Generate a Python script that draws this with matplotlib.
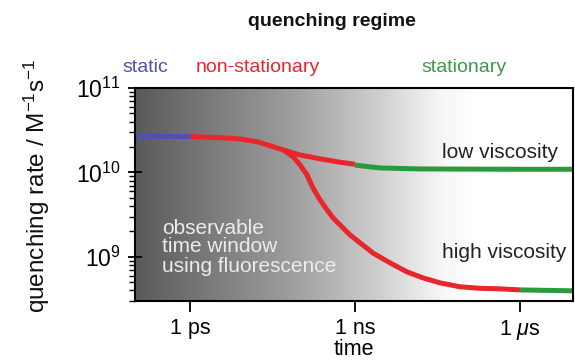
import numpy as np
import matplotlib
matplotlib.use("Agg")
import matplotlib.pyplot as plt
from matplotlib.colors import LinearSegmentedColormap
from matplotlib.ticker import LogLocator, NullFormatter

plt.rcParams['font.family'] = ['Liberation Sans', 'DejaVu Sans']
plt.rcParams['mathtext.fontset'] = 'custom'
plt.rcParams['mathtext.rm'] = 'Liberation Sans'
plt.rcParams['mathtext.it'] = 'Liberation Sans:italic'
plt.rcParams['mathtext.bf'] = 'Liberation Sans:bold'

# ---- data (time in s, rate in M^-1 s^-1) ----
static_t = [1e-13, 1e-12]
static_k = [2.67e10, 2.67e10]

common_t = [1.0e-12, 3.51e-12, 8.11e-12, 1.65e-11, 2.85e-11, 4.91e-11]
common_k = [2.67e10, 2.58e10, 2.49e10, 2.31e10, 2.07e10, 1.85e10]

low_ns_t = [1.0e-10, 2.31e-10, 5.33e-10, 1.0e-9]
low_ns_k = [1.61e10, 1.45e10, 1.32e10, 1.25e10]
low_st_t = [1.0e-9, 2.85e-9, 1.52e-8, 1.0e-6, 9.2e-6]
low_st_k = [1.22e10, 1.13e10, 1.10e10, 1.09e10, 1.09e10]

high_ns_t = [7.46e-11, 1.0e-10, 1.34e-10, 1.72e-10, 2.31e-10, 3.10e-10, 3.98e-10,
             6.05e-10, 8.11e-10, 1.23e-9, 2.12e-9, 4.33e-9, 8.81e-9, 1.72e-8,
             3.51e-8, 8.11e-8, 1.88e-7, 4.33e-7, 1.0e-6]
high_ns_k = [1.54e10, 1.23e10, 9.33e9, 6.56e9, 4.73e9, 3.60e9, 2.90e9,
             2.20e9, 1.82e9, 1.47e9, 1.11e9, 8.49e8, 6.64e8, 5.64e8,
             4.92e8, 4.42e8, 4.24e8, 4.18e8, 4.06e8]
high_st_t = [1.0e-6, 9.2e-6]
high_st_k = [4.06e8, 3.96e8]

xtick_vals = [1e-12, 1e-9, 1e-6]
xtick_labels = ['1 ps', '1 ns', r'1 $\mu$s']
ytick_vals = [1e9, 1e10, 1e11]
ytick_labels = [r'$\mathregular{10^{9}}$', r'$\mathregular{10^{10}}$', r'$\mathregular{10^{11}}$']

C_BLUE = '#4f52a8'
C_RED = '#e8262b'
C_GREEN = '#2b9a3c'

fig = plt.figure(figsize=(5.75, 3.64), dpi=100)
W, H = 575, 364
ax = fig.add_axes([135 / W, (H - 301) / H, (573 - 135) / W, (301 - 88) / H])
ax.set_xscale('log')
ax.set_yscale('log')
ax.set_xlim(1e-13, 9.2e-6)
ax.set_ylim(3.0e8, 1e11)

# gradient background
cmap = LinearSegmentedColormap.from_list('g', [(0, '#5a5a5a'), (0.35, '#9c9c9c'),
                                              (0.55, '#cdcdcd'), (0.70, '#f6f6f6'),
                                              (0.78, '#ffffff'), (1.0, '#ffffff')])
grad = np.linspace(0, 1, 512).reshape(1, -1)
ax.imshow(grad, extent=[0, 1, 0, 1], transform=ax.transAxes, cmap=cmap,
          aspect='auto', zorder=0, interpolation='bicubic')

lw = 3.6
kw = dict(lw=lw, solid_capstyle='butt', solid_joinstyle='round', zorder=3)
ax.plot([common_t[-1]] + high_ns_t, [common_k[-1]] + high_ns_k, color=C_RED, **kw)
ax.plot(common_t + low_ns_t, common_k + low_ns_k, color=C_RED, **kw)
ax.plot(low_st_t, low_st_k, color=C_GREEN, **kw)
ax.plot(high_st_t, high_st_k, color=C_GREEN, **kw)
ax.plot(static_t, static_k, color=C_BLUE, **kw)

ax.set_xticks(xtick_vals)
ax.set_xticklabels(xtick_labels, fontsize=15.5)
ax.xaxis.set_minor_locator(plt.NullLocator())
ax.tick_params(axis='x', which='major', direction='out', length=8, width=1.3, pad=4)

ax.set_yticks(ytick_vals)
ax.set_yticklabels(ytick_labels, fontsize=16.5)
ax.yaxis.set_minor_locator(LogLocator(base=10, subs=np.arange(2, 10)))
ax.yaxis.set_minor_formatter(NullFormatter())
ax.tick_params(axis='y', which='major', direction='inout', length=10, width=1.3, pad=5)
ax.tick_params(axis='y', which='minor', direction='out', length=4, width=1.0)

for s in ax.spines.values():
    s.set_linewidth(1.5)
    s.set_zorder(5)

ax.set_xlabel('time', fontsize=15.5, labelpad=-2)

# annotations
ax.text(442 / W, (H - 153) / H, 'low viscosity', transform=fig.transFigure, ha='left',
        va='center', fontsize=15, color='#222222', zorder=4)
ax.text(442 / W, (H - 252) / H, 'high viscosity', transform=fig.transFigure, ha='left',
        va='center', fontsize=15, color='#222222', zorder=4)
ax.text(162 / W, (H - 247) / H, 'observable\ntime window\nusing fluorescence',
        transform=fig.transFigure, ha='left', va='center', fontsize=15,
        color='#ececec', linespacing=1.0, zorder=4)

fig.text(332 / W, (H - 22) / H, 'quenching regime', ha='center', va='center',
         fontsize=14, fontweight='bold', color='#111111')
fig.text(122 / W, (H - 68) / H, 'static', ha='left', va='center', fontsize=14,
         color='#5050a8')
fig.text(196 / W, (H - 68) / H, 'non-stationary', ha='left', va='center',
         fontsize=14, color=C_RED)
fig.text(507 / W, (H - 68) / H, 'stationary', ha='right', va='center',
         fontsize=14, color='#3a9a48')
fig.text(37 / W, (H - 186) / H, r'quenching rate / M$^{\mathregular{-1}}$s$^{\mathregular{-1}}$',
         ha='center', va='center', rotation=90, fontsize=17.5, color='#111111')

fig.savefig('out.png', dpi=100)
